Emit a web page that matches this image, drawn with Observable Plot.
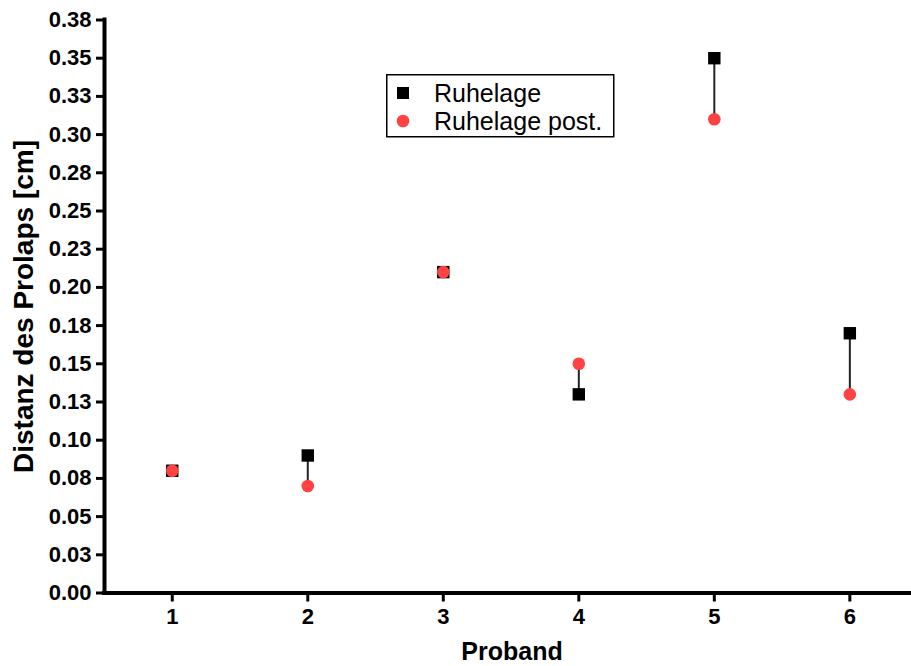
<!DOCTYPE html>
<html>
<head>
<meta charset="utf-8">
<script src="https://cdn.jsdelivr.net/npm/d3@7"></script>
<script src="https://cdn.jsdelivr.net/npm/@observablehq/plot@0.6"></script>
<style>
  body { margin: 0; background: #fff; }
  #chart { position: relative; width: 911px; height: 666px; overflow: hidden;
           font-family: "Liberation Sans", Arial, Helvetica, sans-serif; }
  #legend { position: absolute; left: 386px; top: 74px; }
</style>
</head>
<body>
<div id="chart"></div>
<script>
// Distance of the prolapse per subject, at rest and at rest post.
const proband = [1, 2, 3, 4, 5, 6];
const ruhelage = [0.08, 0.09, 0.21, 0.13, 0.35, 0.17];
const ruhelagePost = [0.08, 0.07, 0.21, 0.15, 0.31, 0.13];

const seriesNames = ["Ruhelage", "Ruhelage post."];
const seriesColors = ["#000000", "#ff4343"];

const yTicks = [0, 0.025, 0.05, 0.075, 0.1, 0.125, 0.15, 0.175, 0.2, 0.225, 0.25, 0.275, 0.3, 0.325, 0.35, 0.375];
const yTickLabels = ["0.00", "0.03", "0.05", "0.08", "0.10", "0.13", "0.15", "0.18", "0.20", "0.23", "0.25", "0.28", "0.30", "0.33", "0.35", "0.38"];

const xTitle = "Proband";
const yTitle = "Distanz des Prolaps [cm]";

const rows = proband.map((p, i) => ({proband: p, ruhe: ruhelage[i], post: ruhelagePost[i]}));

const fontFamily = '"Liberation Sans", Arial, Helvetica, sans-serif';

const plot = Plot.plot({
  width: 911,
  height: 666,
  marginLeft: 104,
  marginRight: 0,
  marginTop: 19.5,
  marginBottom: 73.5,
  style: {fontFamily, color: "#000", background: "#fff"},
  x: {domain: [0.5, 6.455]},
  y: {domain: [0, 0.375]},
  marks: [
    Plot.axisY({
      ticks: yTicks,
      tickFormat: d => yTickLabels[yTicks.indexOf(d)],
      tickSize: 8, tickPadding: 5, strokeWidth: 3,
      fontSize: 22, fontWeight: "bold", label: null
    }),
    Plot.axisX({
      ticks: proband,
      tickFormat: d => String(d),
      tickSize: 9, tickPadding: 6, strokeWidth: 3,
      fontSize: 22, fontWeight: "bold", label: null
    }),
    Plot.ruleX([0.5], {strokeWidth: 4, strokeLinecap: "square"}),
    Plot.ruleY([0], {strokeWidth: 4, strokeLinecap: "square"}),
    // connectors between the two measurements of each subject
    Plot.ruleX(rows, {x: "proband", y1: "ruhe", y2: "post", stroke: "#222", strokeWidth: 2}),
    Plot.dot(rows, {x: "proband", y: "ruhe", symbol: "square", r: 7, fill: seriesColors[0]}),
    Plot.dot(rows, {x: "proband", y: "post", symbol: "circle", r: 6.3, fill: seriesColors[1]}),
    Plot.text([xTitle], {text: d => d, frameAnchor: "bottom", textAnchor: "middle", lineAnchor: "middle",
      dx: 4, dy: 59, fontSize: 25, fontWeight: "bold"}),
    Plot.text([yTitle], {text: d => d, frameAnchor: "left", textAnchor: "middle", lineAnchor: "middle",
      rotate: -90, dx: -80, fontSize: 28, fontWeight: "bold"})
  ]
});

const chart = document.getElementById("chart");
chart.appendChild(plot);

// legend box
const legend = d3.create("svg")
  .attr("id", "legend")
  .attr("width", 230)
  .attr("height", 65)
  .style("font-family", fontFamily);
legend.append("rect")
  .attr("x", 0.75).attr("y", 0.75).attr("width", 227).attr("height", 62)
  .attr("fill", "#fff").attr("stroke", "#000").attr("stroke-width", 1.5);
const items = legend.selectAll("g").data(seriesNames).join("g")
  .attr("transform", (d, i) => `translate(0,${19 + i * 28})`);
items.append("path")
  .attr("transform", "translate(17,0)")
  .attr("d", (d, i) => d3.symbol(i === 0 ? d3.symbolSquare : d3.symbolCircle, i === 0 ? 144 : 125)())
  .attr("fill", (d, i) => seriesColors[i]);
items.append("text")
  .attr("x", 48).attr("y", 9)
  .attr("font-size", 25)
  .attr("fill", "#000")
  .text(d => d);
chart.appendChild(legend.node());
</script>
</body>
</html>
